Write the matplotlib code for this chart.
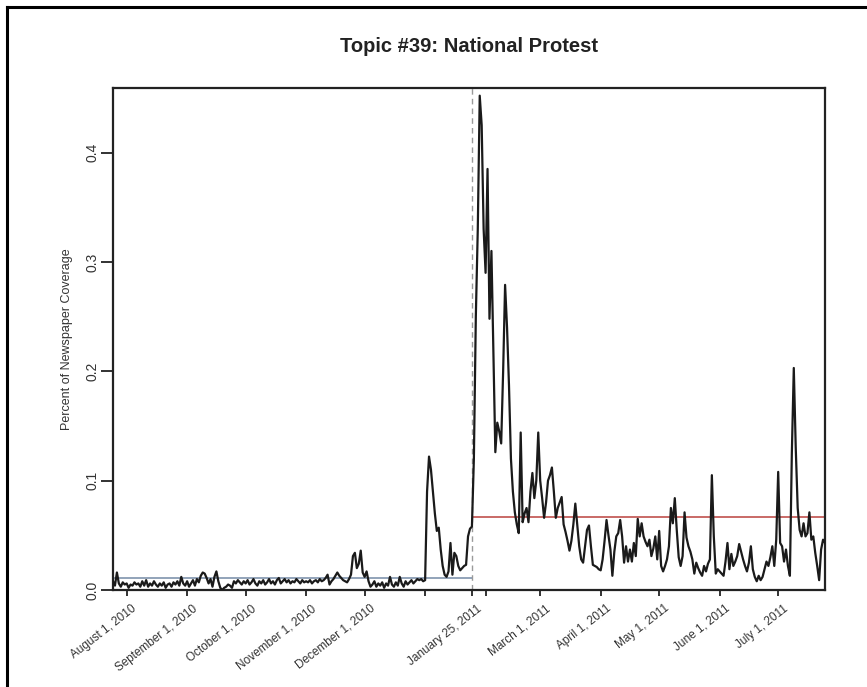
import matplotlib
matplotlib.use("Agg")
import matplotlib.pyplot as plt
from matplotlib.lines import Line2D
from matplotlib.transforms import ScaledTranslation
import pandas as pd

# daily share of newspaper coverage for topic 39, starting 25 Jul 2010
start_date = "2010-07-25"
coverage = [
    # Jul 2010
    0.008, 0.004, 0.016, 0.006, 0.003, 0.007, 0.005,
    # Aug
    0.006, 0.002, 0.005, 0.004, 0.007, 0.005, 0.006, 0.003, 0.008, 0.004,
    0.009, 0.003, 0.006, 0.004, 0.008, 0.005, 0.003, 0.006, 0.004, 0.007,
    0.002, 0.005, 0.006, 0.003, 0.007, 0.005, 0.008, 0.004, 0.012, 0.006, 0.004,
    # Sep
    0.008, 0.003, 0.006, 0.009, 0.004, 0.010, 0.007, 0.013, 0.016, 0.015,
    0.011, 0.006, 0.010, 0.003, 0.012, 0.017, 0.008, 0.002, 0.000, 0.002,
    0.003, 0.005, 0.004, 0.002, 0.008, 0.006, 0.009, 0.007, 0.005, 0.008,
    # Oct
    0.006, 0.009, 0.005, 0.007, 0.010, 0.006, 0.004, 0.008, 0.006, 0.009,
    0.005, 0.007, 0.010, 0.006, 0.008, 0.005, 0.009, 0.011, 0.006, 0.008,
    0.010, 0.007, 0.009, 0.006, 0.008, 0.007, 0.010, 0.008, 0.006, 0.009, 0.007,
    # Nov
    0.008, 0.007, 0.009, 0.006, 0.008, 0.009, 0.007, 0.010, 0.008, 0.009,
    0.011, 0.014, 0.005, 0.008, 0.010, 0.013, 0.016, 0.013, 0.011, 0.009,
    0.008, 0.007, 0.010, 0.014, 0.031, 0.034, 0.020, 0.024, 0.036, 0.016,
    # Dec
    0.012, 0.017, 0.008, 0.003, 0.005, 0.008, 0.003, 0.006, 0.004, 0.007,
    0.002, 0.006, 0.004, 0.012, 0.005, 0.003, 0.007, 0.004, 0.012, 0.006,
    0.003, 0.008, 0.005, 0.007, 0.009, 0.006, 0.008, 0.010, 0.009, 0.010, 0.008,
    # Jan 2011
    0.009, 0.090, 0.122, 0.110, 0.090, 0.070, 0.054, 0.057, 0.037, 0.022,
    0.014, 0.012, 0.017, 0.043, 0.014, 0.034, 0.031, 0.022, 0.018, 0.020,
    0.022, 0.023, 0.049, 0.056, 0.058, 0.120, 0.250, 0.330, 0.452, 0.425, 0.330,
    # Feb
    0.290, 0.385, 0.248, 0.310, 0.217, 0.126, 0.153, 0.145, 0.134, 0.200,
    0.279, 0.240, 0.187, 0.120, 0.090, 0.071, 0.060, 0.052, 0.144, 0.062,
    0.070, 0.075, 0.062, 0.090, 0.107, 0.084, 0.100, 0.144,
    # Mar
    0.100, 0.084, 0.066, 0.080, 0.100, 0.105, 0.112, 0.090, 0.066, 0.075,
    0.080, 0.085, 0.060, 0.053, 0.045, 0.036, 0.045, 0.060, 0.079, 0.060,
    0.040, 0.028, 0.025, 0.040, 0.055, 0.059, 0.040, 0.023, 0.022, 0.021, 0.019,
    # Apr
    0.018, 0.028, 0.045, 0.064, 0.050, 0.037, 0.013, 0.035, 0.049, 0.052,
    0.064, 0.049, 0.025, 0.040, 0.026, 0.037, 0.026, 0.043, 0.031, 0.065,
    0.049, 0.061, 0.049, 0.044, 0.040, 0.046, 0.031, 0.038, 0.049, 0.028,
    # May
    0.054, 0.022, 0.017, 0.022, 0.028, 0.040, 0.075, 0.061, 0.084, 0.055,
    0.030, 0.022, 0.031, 0.071, 0.048, 0.040, 0.035, 0.028, 0.015, 0.025,
    0.020, 0.016, 0.013, 0.022, 0.017, 0.024, 0.028, 0.105, 0.049, 0.015, 0.019,
    # Jun
    0.017, 0.015, 0.013, 0.026, 0.043, 0.019, 0.033, 0.022, 0.026, 0.031,
    0.042, 0.035, 0.028, 0.022, 0.017, 0.025, 0.040, 0.019, 0.012, 0.008,
    0.013, 0.009, 0.012, 0.019, 0.026, 0.022, 0.030, 0.040, 0.022, 0.046,
    # Jul 2011
    0.108, 0.043, 0.040, 0.026, 0.037, 0.022, 0.013, 0.125, 0.203, 0.130,
    0.075, 0.055, 0.049, 0.061, 0.049, 0.052, 0.071, 0.046, 0.049, 0.034,
    0.022, 0.009, 0.037, 0.046, 0.043,
]

break_date = "2011-01-25"
pre_mean = 0.011
post_mean = 0.0665

tick_dates = ["2010-08-01", "2010-09-01", "2010-10-01", "2010-11-01",
              "2010-12-01", "2011-01-01", "2011-01-25", "2011-02-01",
              "2011-03-01", "2011-04-01", "2011-05-01", "2011-06-01",
              "2011-07-01"]
tick_labels = ["August 1, 2010", "September 1, 2010", "October 1, 2010",
               "November 1, 2010", "December 1, 2010", "", "January 25, 2011",
               "", "March 1, 2011", "April 1, 2011", "May 1, 2011",
               "June 1, 2011", "July 1, 2011"]
y_ticks = [0.0, 0.1, 0.2, 0.3, 0.4]

plt.rcParams["font.family"] = ["Liberation Sans", "DejaVu Sans"]

days = pd.date_range(start_date, periods=len(coverage), freq="D")
brk = pd.Timestamp(break_date)

W, H = 867, 687
fig = plt.figure(figsize=(W / 100, H / 100), dpi=100)
ax = fig.add_axes([113 / W, 1 - 590 / H, (825 - 113) / W, (590 - 88) / H])

ax.plot(days, coverage, color="#1a1a1a", lw=1.6, zorder=3)
ax.hlines(pre_mean, days[0], brk, color="#7f93ad", lw=1.2, zorder=2)
ax.hlines(post_mean, brk, days[-1], color="#c0504d", lw=1.2, zorder=2)
ax.axvline(brk, color="#9a9a9a", lw=1.0, ls=(0, (4, 3)), zorder=1)

ax.set_xlim(days[0], days[-1])
ax.set_ylim(0, 0.459)

ax.set_xticks(pd.to_datetime(tick_dates))
ax.set_xticklabels(tick_labels, rotation=38, ha="right",
                   rotation_mode="anchor", fontsize=8.5, color="#333333")
ax.tick_params(axis="x", length=4, width=1.3, pad=5, color="#222222")
# nudge the slanted date labels so they end just right of their tick
shift = ScaledTranslation(5 / 100, 0, fig.dpi_scale_trans)
for lab in ax.get_xticklabels():
    lab.set_transform(lab.get_transform() + shift)

ax.set_yticks(y_ticks)
ax.set_yticklabels([f"{v:.1f}" for v in y_ticks], rotation=90,
                   va="center", fontsize=10, color="#333333")
ax.tick_params(axis="y", length=9, width=1.3, pad=1, color="#222222")

for sp in ax.spines.values():
    sp.set_linewidth(1.6)
    sp.set_color("#222222")

ax.set_ylabel("Percent of Newspaper Coverage", fontsize=9,
              color="#333333", labelpad=9)

fig.text(469 / W, 1 - 47 / H, "Topic #39: National Protest",
         ha="center", va="center", fontsize=14.5, fontweight="bold",
         color="#222222")

# frame around the whole page, top and left edges
fig.add_artist(Line2D([7 / W, 7 / W], [0, 1 - 7 / H], transform=fig.transFigure,
                      color="black", lw=2.2))
fig.add_artist(Line2D([7 / W, 1], [1 - 7 / H, 1 - 7 / H], transform=fig.transFigure,
                      color="black", lw=2.2))

fig.savefig("out.png", dpi=100)
